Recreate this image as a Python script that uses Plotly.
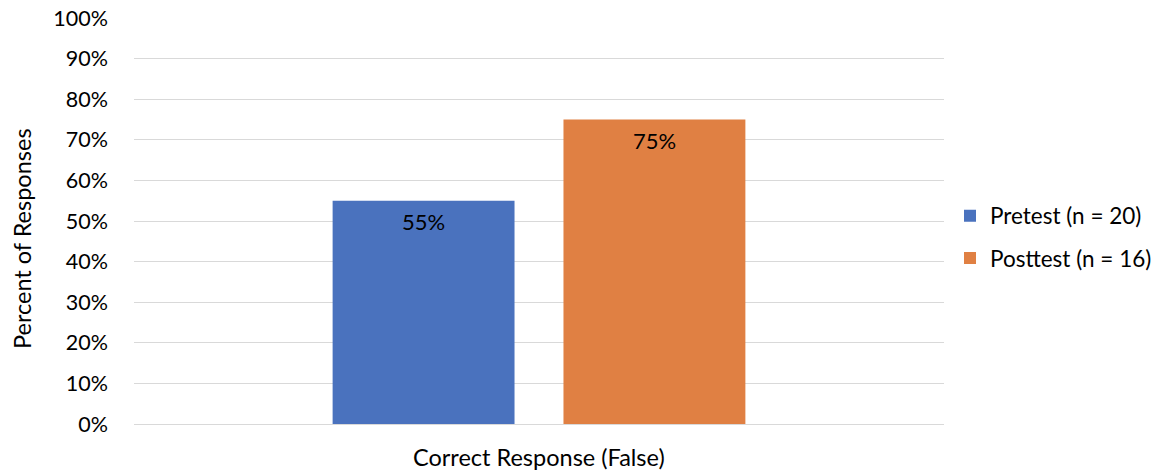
import plotly.graph_objects as go

categories = ["Correct Response (False)"]
series_names = ["Pretest (n = 20)", "Posttest (n = 16)"]
pretest_values = [55]
posttest_values = [75]
series_colors = ["#4A72BE", "#E08043"]
y_ticks = list(range(0, 101, 10))
y_tick_labels = [f"{v}%" for v in y_ticks]

FONT = "Lato, Carlito, 'Open Sans', sans-serif"

W, H = 1164, 471
M = dict(l=134, r=220, t=18, b=47)
plot_w = W - M["l"] - M["r"]
plot_h = H - M["t"] - M["b"]
BARGAP, BARGROUPGAP = 0.43, 0.212

fig = go.Figure()
all_values = [pretest_values, posttest_values]
for name, vals, color in zip(series_names, all_values, series_colors):
    fig.add_trace(go.Bar(
        x=categories, y=vals, name=name, legendgroup=name,
        marker=dict(color=color, line=dict(width=0)),
        cliponaxis=False,
    ))

# value labels sit just below the top of each bar
slot_px = plot_w * (1 - BARGAP) / len(series_names)
for i, vals in enumerate(all_values):
    shift = (i - (len(series_names) - 1) / 2) * slot_px
    for cat, v in zip(categories, vals):
        fig.add_annotation(
            x=cat, y=v, xref="x", yref="y", text=f"{v}%",
            showarrow=False, xshift=shift, yshift=-21,
            font=dict(size=22, color="black", family=FONT),
        )

fig.update_layout(
    width=W, height=H, margin=M,
    paper_bgcolor="white", plot_bgcolor="white",
    barmode="group", bargap=BARGAP, bargroupgap=BARGROUPGAP,
    font=dict(family=FONT, size=21.5, color="black"),
    showlegend=True,
    legend=dict(xref="container", yref="container",
                x=950 / W, y=(H - 237) / H, xanchor="left", yanchor="middle",
                font=dict(size=22.5), tracegroupgap=10, itemwidth=30),
)
fig.update_yaxes(
    range=[0, 100], tickvals=y_ticks, ticktext=y_tick_labels,
    showgrid=True, gridcolor="#D9D9D9", gridwidth=1,
    zeroline=False, showline=False, ticks="",
    ticklabelstandoff=25, automargin=False,
)
fig.update_xaxes(
    showticklabels=False, ticks="", showline=True, linecolor="#D9D9D9",
    automargin=False,
)

# axis titles
fig.add_annotation(
    text="Percent of Responses", xref="paper", yref="paper",
    x=(22 - M["l"]) / plot_w, y=(M["t"] + plot_h - 239) / plot_h,
    textangle=-90, showarrow=False,
    xanchor="center", yanchor="middle", font=dict(size=23.5),
)
fig.add_annotation(
    text=categories[0], xref="paper", yref="paper",
    x=0.5, y=-(457 - (M["t"] + plot_h)) / plot_h, showarrow=False,
    xanchor="center", yanchor="middle", font=dict(size=23.5),
)

fig.write_html("out.html")
